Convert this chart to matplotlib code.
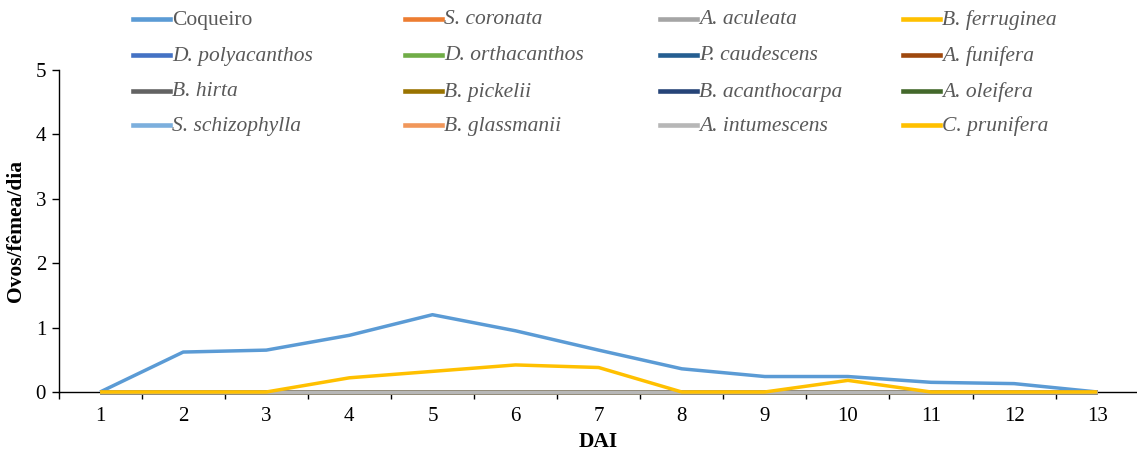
import matplotlib
matplotlib.use("Agg")
import matplotlib.pyplot as plt
from matplotlib.lines import Line2D
from matplotlib.ticker import FixedLocator, NullFormatter

plt.rcParams['font.family'] = ['Liberation Serif', 'DejaVu Serif']

days = [1, 2, 3, 4, 5, 6, 7, 8, 9, 10, 11, 12, 13]
zeros = [0] * 13
coqueiro = [0, 0.62, 0.65, 0.88, 1.20, 0.95, 0.65, 0.36, 0.24, 0.24, 0.15, 0.13, 0]
c_prunifera = [0, 0, 0, 0.22, 0.32, 0.42, 0.38, 0, 0, 0.18, 0, 0, 0]

series_names = ["Coqueiro", "S. coronata", "A. aculeata", "B. ferruginea",
                "D. polyacanthos", "D. orthacanthos", "P. caudescens", "A. funifera",
                "B. hirta", "B. pickelii", "B. acanthocarpa", "A. oleifera",
                "S. schizophylla", "B. glassmanii", "A. intumescens", "C. prunifera"]
series_values = [coqueiro] + [zeros] * 14 + [c_prunifera]
series_colors = ["#5B9BD5", "#ED7D31", "#A5A5A5", "#FFC000",
                 "#4472C4", "#70AD47", "#255E91", "#9E480E",
                 "#636363", "#997300", "#264478", "#43682B",
                 "#7CAFDD", "#F1975A", "#B7B7B7", "#FFC000"]

W, H = 1137, 453
fig = plt.figure(figsize=(W / 100, H / 100), dpi=100)
ax = fig.add_axes([0.0515, 0.1347, 0.95, 0.7108])

for name, vals, col in zip(series_names, series_values, series_colors):
    ax.plot(days, vals, color=col, lw=2.5, solid_capstyle='butt',
            clip_on=False, zorder=3)

ax.set_xlim(0.5, 13.5)
ax.set_ylim(0, 5)
ax.set_yticks([0, 1, 2, 3, 4, 5])
ax.set_xticks(days)
ax.xaxis.set_minor_locator(FixedLocator([d - 0.5 for d in days] + [13.5]))
ax.xaxis.set_minor_formatter(NullFormatter())
ax.tick_params(axis='x', which='major', length=0, labelsize=15, pad=11)
ax.tick_params(axis='x', which='minor', length=5, width=1, direction='out')
ax.tick_params(axis='y', length=5, width=1, labelsize=15, pad=4)
for s in ['top', 'right']:
    ax.spines[s].set_visible(False)
for s in ['left', 'bottom']:
    ax.spines[s].set_linewidth(1)

ax.set_xlabel("DAI", fontsize=15.5, fontweight='bold', labelpad=4)
ax.set_ylabel("Ovos/fêmea/dia", fontsize=15.5, fontweight='bold')
ax.yaxis.set_label_coords(-0.030, 0.5)

# manual legend, 4 columns x 4 rows (row-wise order)
col_px = [133, 405, 660, 903]
row_px = [19, 55, 91, 125]
for i, (name, col) in enumerate(zip(series_names, series_colors)):
    r, c = divmod(i, 4)
    x0 = col_px[c] / W
    y0 = 1 - row_px[r] / H
    fig.add_artist(Line2D([x0, x0 + 37 / W], [y0, y0], color=col, lw=3.3,
                          transform=fig.transFigure))
    fig.text(x0 + 39 / W, y0 - 1 / H, name, fontsize=15.5, color="#595959",
             va='center', ha='left', style='normal' if i == 0 else 'italic')

fig.savefig("out.png", dpi=100)
